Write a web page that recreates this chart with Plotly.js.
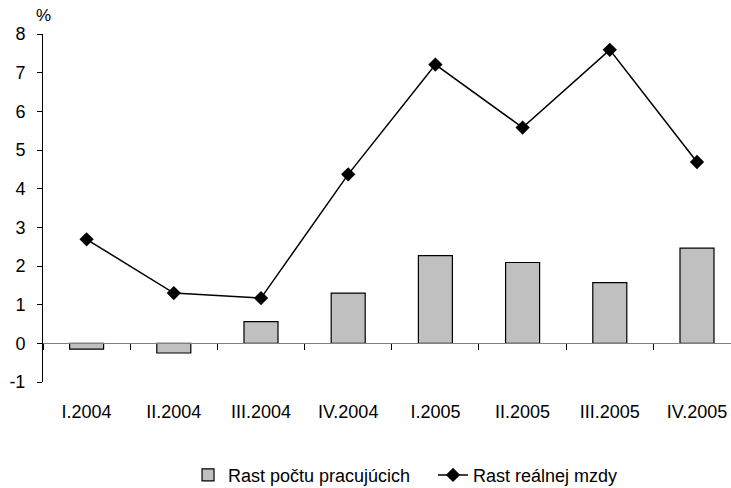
<!DOCTYPE html>
<html>
<head>
<meta charset="utf-8">
<script src="https://cdn.plot.ly/plotly-3.0.1.min.js"></script>
<style>
  html, body { margin: 0; padding: 0; background: #ffffff; }
  #chart { width: 731px; height: 488px; }
</style>
</head>
<body>
<div id="chart"></div>
<script>
// Quarterly growth, % year on year
const quarters = ['I.2004', 'II.2004', 'III.2004', 'IV.2004', 'I.2005', 'II.2005', 'III.2005', 'IV.2005'];
const employmentGrowth = [-0.15, -0.25, 0.56, 1.30, 2.27, 2.09, 1.57, 2.46];
const realWageGrowth = [2.69, 1.30, 1.17, 4.37, 7.21, 5.58, 7.59, 4.69];
const yTicks = [-1, 0, 1, 2, 3, 4, 5, 6, 7, 8];
const yTickLabels = ['-1', '0', '1', '2', '3', '4', '5', '6', '7', '8'];

const FONT = 'Liberation Sans, Arial, sans-serif';

const traces = [
  {
    type: 'bar',
    name: 'Rast počtu pracujúcich',
    x: quarters,
    y: employmentGrowth,
    width: 0.39,
    marker: { color: '#c0c0c0', line: { color: '#000000', width: 1.2 } },
    hoverinfo: 'skip'
  },
  {
    type: 'scatter',
    mode: 'lines+markers',
    name: 'Rast reálnej mzdy',
    x: quarters,
    y: realWageGrowth,
    line: { color: '#000000', width: 1.5 },
    marker: { symbol: 'diamond', size: 11, color: '#000000' },
    hoverinfo: 'skip'
  }
];

const layout = {
  width: 731,
  height: 488,
  margin: { l: 43, r: 0, t: 34, b: 106, autoexpand: false },
  paper_bgcolor: '#ffffff',
  plot_bgcolor: '#ffffff',
  font: { family: FONT, size: 18, color: '#000000' },
  showlegend: true,
  xaxis: {
    type: 'category',
    range: [-0.5, 7.39],
    anchor: 'free',
    position: 1 / 9,
    showline: true,
    linecolor: '#808080',
    linewidth: 1,
    showgrid: false,
    zeroline: false,
    ticks: 'outside',
    tickson: 'boundaries',
    ticklen: 6,
    tickcolor: '#000000',
    ticklabelstandoff: 52,
    tickfont: { family: FONT, size: 18, color: '#000000' },
    automargin: false,
    fixedrange: true
  },
  yaxis: {
    range: [-1, 8],
    tickmode: 'array',
    tickvals: yTicks,
    ticktext: yTickLabels,
    showline: true,
    linecolor: '#000000',
    linewidth: 1,
    showgrid: false,
    zeroline: false,
    ticks: 'outside',
    ticklen: 5,
    tickcolor: '#000000',
    ticklabelstandoff: 8,
    tickfont: { family: FONT, size: 18, color: '#000000' },
    automargin: false,
    fixedrange: true
  },
  legend: {
    orientation: 'h',
    x: 0.2108,
    xanchor: 'left',
    y: -0.268,
    yanchor: 'middle',
    entrywidth: 200,
    entrywidthmode: 'pixels',
    font: { family: FONT, size: 18, color: '#000000' },
    traceorder: 'normal',
    itemclick: false,
    itemdoubleclick: false
  },
  annotations: [
    {
      text: '%',
      xref: 'paper',
      yref: 'paper',
      x: 0,
      y: 1,
      xanchor: 'center',
      yanchor: 'bottom',
      yshift: 7,
      showarrow: false,
      font: { family: FONT, size: 17, color: '#000000' }
    }
  ]
};

Plotly.newPlot('chart', traces, layout, { staticPlot: true, displayModeBar: false });
</script>
</body>
</html>
